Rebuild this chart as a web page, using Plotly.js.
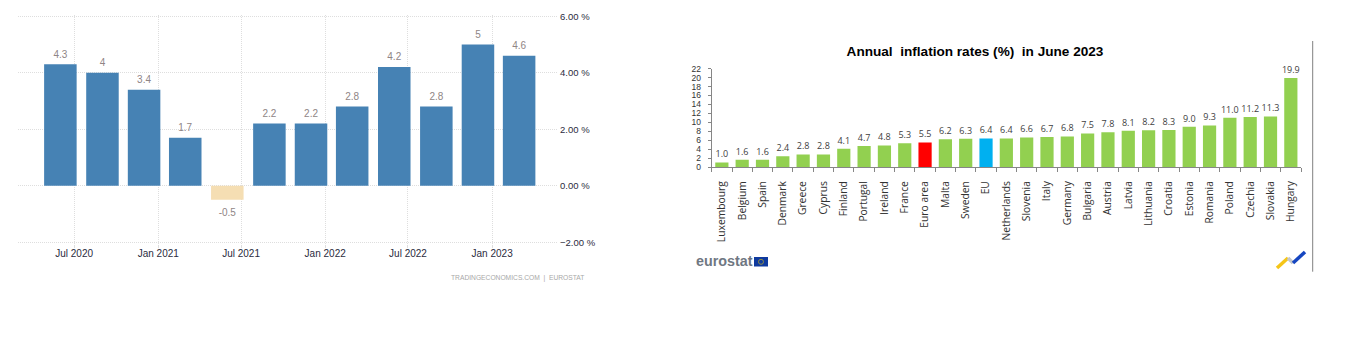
<!DOCTYPE html>
<html>
<head>
<meta charset="utf-8">
<script src="https://cdn.plot.ly/plotly-3.0.1.min.js"></script>
<style>html,body{margin:0;padding:0;background:#fff}#chart{width:1353px;height:352px}</style>
</head>
<body>
<div id="chart"></div>
<script>
const quarterDates = ["2020-06-01","2020-09-01","2020-12-01","2021-03-01","2021-06-01","2021-09-01","2021-12-01","2022-03-01","2022-06-01","2022-09-01","2022-12-01","2023-03-01"];
const quarterValues = [4.3,4,3.4,1.7,-0.5,2.2,2.2,2.8,4.2,2.8,5,4.6];
const countries = ["Luxembourg","Belgium","Spain","Denmark","Greece","Cyprus","Finland","Portugal","Ireland","France","Euro area","Malta","Sweden","EU","Netherlands","Slovenia","Italy","Germany","Bulgaria","Austria","Latvia","Lithuania","Croatia","Estonia","Romania","Poland","Czechia","Slovakia","Hungary"];
const inflation = [1.0,1.6,1.6,2.4,2.8,2.8,4.1,4.7,4.8,5.3,5.5,6.2,6.3,6.4,6.4,6.6,6.7,6.8,7.5,7.8,8.1,8.2,8.3,9.0,9.3,11.0,11.2,11.3,19.9];

const W = 1353, H = 352;
const px = x => x / W, py = y => 1 - y / H;
const SANS = '"Liberation Sans", Arial, sans-serif';
const BODY = '"Open Sans", sans-serif';
const GRID = '#dedede';

const traces = [
  {
    type: 'bar', x: quarterDates, y: quarterValues, xaxis: 'x', yaxis: 'y',
    marker: {color: quarterValues.map(v => v < 0 ? '#f5deb3' : '#4682b4'), line: {width: 0}},
    hoverinfo: 'skip'
  },
  {
    type: 'scatter', mode: 'markers+text', x: quarterDates, y: quarterValues, xaxis: 'x', yaxis: 'y',
    marker: {size: quarterValues.map(v => v < 0 ? 12 : 5), opacity: 0}, cliponaxis: false,
    text: quarterValues.map(String),
    textposition: quarterValues.map(v => v < 0 ? 'bottom center' : 'top center'),
    textfont: {family: SANS, size: 10, color: '#8f8585'}, hoverinfo: 'skip'
  },
  {
    type: 'bar', x: countries, y: inflation, xaxis: 'x2', yaxis: 'y2', width: 0.65,
    marker: {color: countries.map(c => c === 'Euro area' ? '#ff0000' : c === 'EU' ? '#00b0f0' : '#92d050'), line: {width: 0}},
    hoverinfo: 'skip'
  },
  {
    type: 'scatter', mode: 'markers+text', x: countries, y: inflation, xaxis: 'x2', yaxis: 'y2',
    marker: {size: 3, opacity: 0}, cliponaxis: false,
    text: inflation.map(v => v.toFixed(1)), textposition: 'top center',
    textfont: {family: BODY, size: 9, color: '#404040'}, hoverinfo: 'skip'
  }
];

const line = (x0, y0, x1, y1, color, width) => ({type: 'line', xref: 'paper', yref: 'paper',
  x0: px(x0), y0: py(y0), x1: px(x1), y1: py(y1), line: {color, width}});

const layout = {
  width: W, height: H, paper_bgcolor: '#fff', plot_bgcolor: '#fff',
  margin: {l: 0, r: 0, t: 0, b: 0}, showlegend: false, bargap: 0.21,
  title: {text: 'Annual\u00a0 inflation\u00a0rates\u00a0(%)\u00a0 in\u00a0June\u00a02023', x: px(975), y: py(51), xanchor: 'center', yanchor: 'middle',
    font: {family: SANS, size: 13.6, color: '#000', weight: 700}},
  xaxis: {
    domain: [px(18.3), px(558)], anchor: 'y', type: 'date',
    range: ['2020-03-01', '2023-05-25'], tick0: '2020-07-01', dtick: 'M6', tickformat: '%b %Y',
    showgrid: true, gridcolor: GRID, griddash: '1px,1px', gridwidth: 1,
    ticks: 'outside', ticklen: 3, tickcolor: GRID, showline: false, zeroline: false,
    ticklabelstandoff: -3,
    tickfont: {family: SANS, size: 10, color: '#2b2b40'}
  },
  yaxis: {
    domain: [py(243.6), py(14.8)], anchor: 'x', side: 'right', range: [-2.05, 6.05],
    tick0: -2, dtick: 2, tickformat: '.2f', ticksuffix: ' %',
    showgrid: true, gridcolor: GRID, griddash: '1px,1px', gridwidth: 1, zeroline: false,
    ticks: '', showline: false, ticklabelstandoff: 1,
    tickfont: {family: SANS, size: 9.5, color: '#2b2b40'}
  },
  xaxis2: {
    domain: [px(711.7), px(1301)], anchor: 'y2', type: 'category', range: [-0.5, 28.5],
    tickangle: -90, ticks: 'outside', tickson: 'boundaries', ticklen: 4, tickcolor: '#868686',
    showline: true, linecolor: '#868686', linewidth: 1, showgrid: false, zeroline: false,
    ticklabelstandoff: 9, tickfont: {family: BODY, size: 10.3, color: '#333'}
  },
  yaxis2: {
    domain: [py(167), py(68.7)], anchor: 'x2', range: [0, 22], dtick: 2,
    ticks: 'outside', ticklen: 3, tickcolor: '#868686', showline: true, linecolor: '#868686', linewidth: 1,
    showgrid: false, zeroline: false, ticklabelstandoff: 5,
    tickfont: {family: SANS, size: 8.5, color: '#333'}
  },
  annotations: [
    {xref: 'paper', yref: 'paper', x: px(586), y: py(278), xanchor: 'right', yanchor: 'middle', showarrow: false,
      text: 'TRADINGECONOMICS.COM\u00a0 |\u00a0 EUROSTAT', font: {family: SANS, size: 6.7, color: '#a8a8a8'}},
    {xref: 'paper', yref: 'paper', x: px(694), y: py(261), xanchor: 'left', yanchor: 'middle', showarrow: false,
      text: 'eurostat', font: {family: SANS, size: 14.3, color: '#6f7782', weight: 700}}
  ],
  shapes: [
    line(1312.7, 41, 1312.7, 271.7, '#808080', 1),
    {type: 'rect', xref: 'paper', yref: 'paper', x0: px(754), x1: px(768), y0: py(257), y1: py(266.5), fillcolor: '#0f3a9e', line: {width: 0}},
    {type: 'circle', xref: 'paper', yref: 'paper', x0: px(758.5), x1: px(763.5), y0: py(259.3), y1: py(264.3), line: {color: '#8f8f4a', width: 1}},
    line(1277, 268, 1288, 258, '#f5c518', 3.5),
    line(1288, 258, 1293, 263, '#c4c8cc', 3.5),
    line(1293, 263, 1305, 252, '#1646c0', 3.5)
  ]
};

Plotly.newPlot('chart', traces, layout, {displayModeBar: false, staticPlot: true});
</script>
</body>
</html>
